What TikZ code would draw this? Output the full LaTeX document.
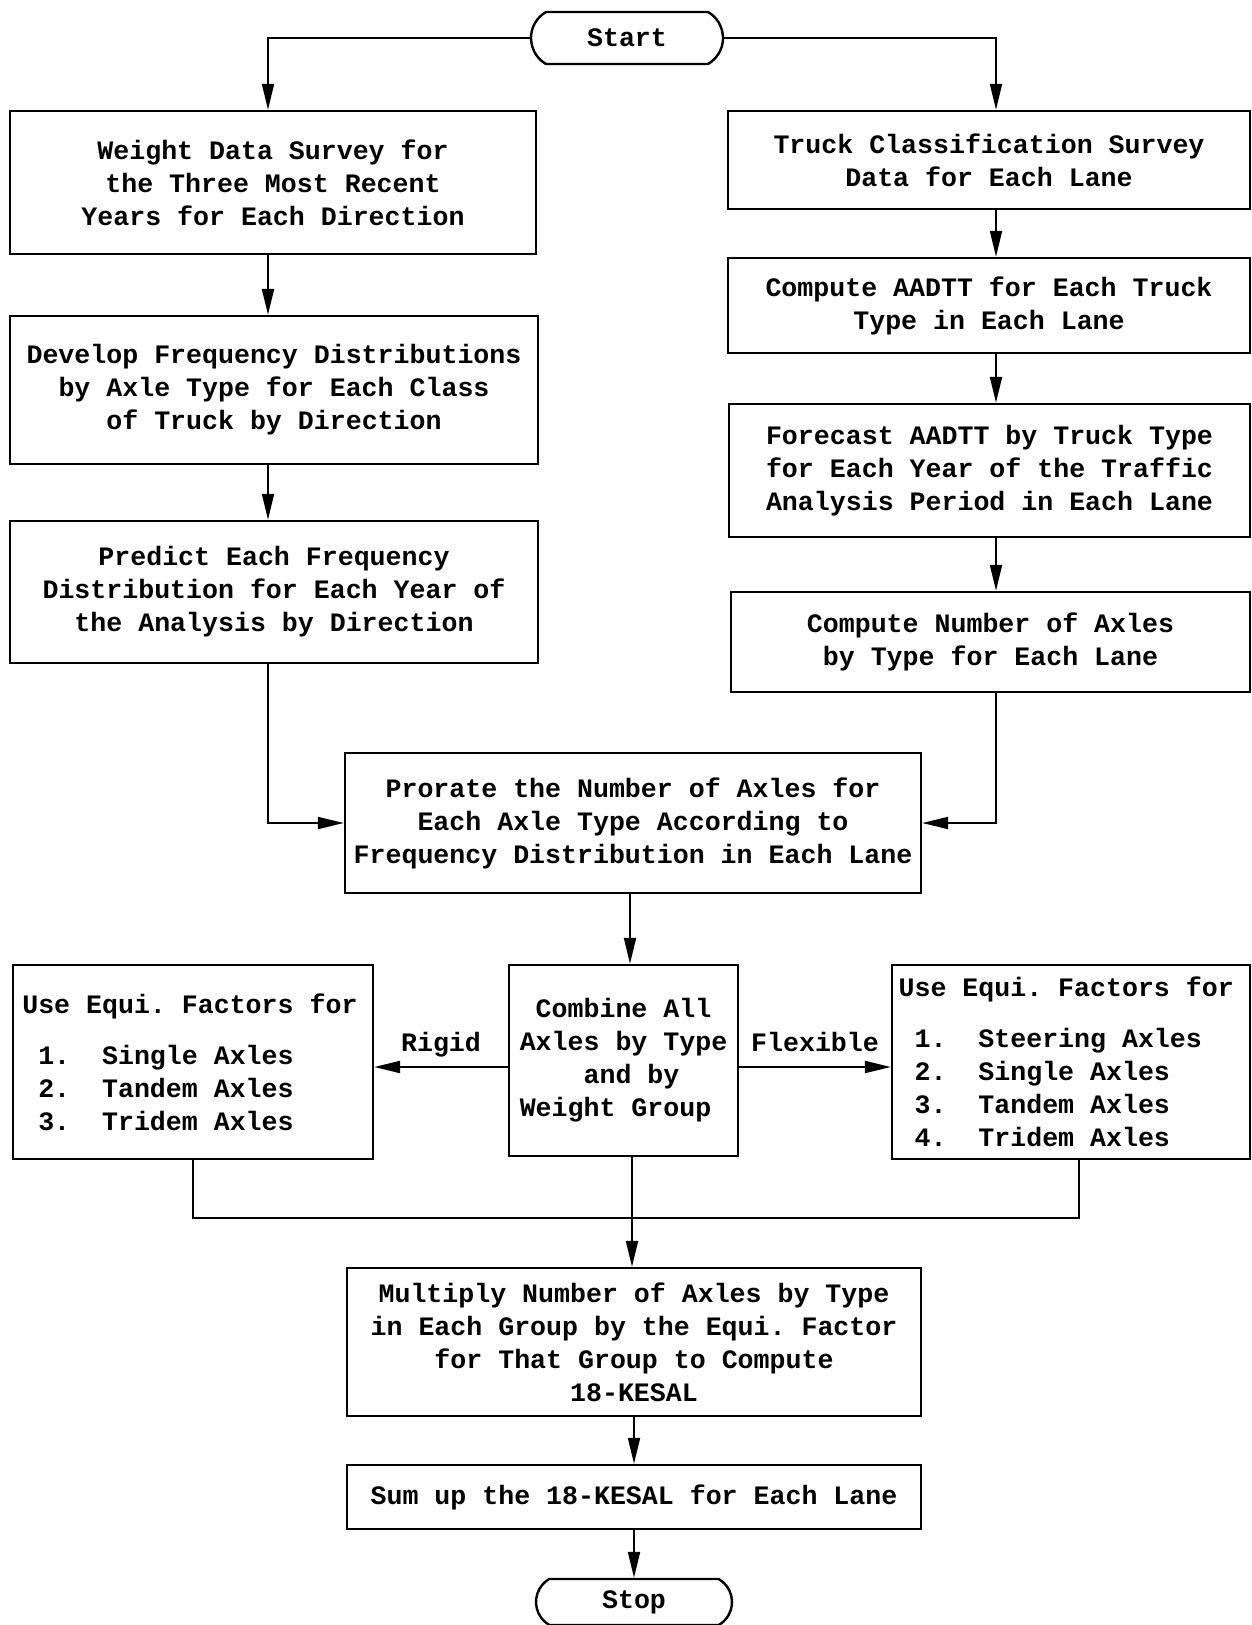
\documentclass[tikz,border=0pt]{standalone}
\usepackage{fontspec}
\setmonofont{Liberation Mono}
\usepackage{tikz}
\usetikzlibrary{shapes.misc,arrows.meta,calc}
\frenchspacing
\newcommand\eqsp{\spaceskip=.6em\relax}
\tikzset{box/.style={rectangle,draw,line width=1.2pt,inner sep=0pt,align=center,font=\ttfamily\bfseries\fontsize{13.3}{16.5}\selectfont},
term/.style={rounded rectangle,rounded rectangle arc length=120,draw,line width=1.2pt,inner sep=0pt,font=\ttfamily\bfseries\fontsize{13.3}{16.5}\selectfont},
lbl/.style={inner sep=1pt,text depth=3pt,font=\ttfamily\bfseries\fontsize{13.3}{16.5}\selectfont},
arr/.style={line width=1pt,-{Triangle[length=13pt,width=6pt]}},
ln/.style={line width=1pt}}

\begin{document}
\begin{tikzpicture}[x=0.5pt,y=-0.5pt]
\useasboundingbox (0,0) rectangle (1251,1625);
\coordinate (lx) at (268,0);
\coordinate (rx) at (996,0);
\coordinate (mx) at (630,0);
\coordinate (ry) at (0,1067);
\coordinate (rtx) at (1079,0);
\coordinate (jn) at (632,1218);
\node[term,minimum width=96pt,minimum height=26pt] (st) at (627,38) {Start};
\node[box,minimum width=263pt,minimum height=71.5pt] (b1) at (273,182.5) {Weight Data Survey for\\the Three Most Recent\\Years for Each Direction};
\node[box,minimum width=264pt,minimum height=74pt] (b2) at (274,390) {Develop Frequency Distributions\\by Axle Type for Each Class\\of Truck by Direction};
\node[box,minimum width=264pt,minimum height=71pt] (b3) at (274,592) {Predict Each Frequency\\Distribution for Each Year of\\the Analysis by Direction};
\node[box,minimum width=261pt,minimum height=49pt] (r1) at (989,160) {Truck Classification Survey\\Data for Each Lane};
\node[box,minimum width=261pt,minimum height=47.5pt] (r2) at (989,305.5) {Compute AADTT for Each Truck\\Type in Each Lane};
\node[box,minimum width=260.5pt,minimum height=66.5pt] (r3) at (989.5,470.5) {Forecast AADTT by Truck Type\\for Each Year of the Traffic\\Analysis Period in Each Lane};
\node[box,minimum width=259.5pt,minimum height=50pt] (r4) at (990.5,642) {Compute Number of Axles\\by Type for Each Lane};
\node[box,minimum width=288pt,minimum height=70pt] (pr) at (633,823) {Prorate the Number of Axles for\\Each Axle Type According to\\Frequency Distribution in Each Lane};
\node[box,align=left,minimum width=114.5pt,minimum height=95.5pt] (cb) at (623.5,1060.5) {\hspace*{.6em}Combine All\\Axles by Type\\\hspace*{2.4em}and by\\Weight Group};
\node[box,align=left,inner xsep=4.65pt,text width=170.7pt,minimum height=97pt] (rg) at (193,1062) {\eqsp Use Equi. Factors for\\[9pt]
\hspace*{.6em}1.\ \ Single Axles\\
\hspace*{.6em}2.\ \ Tandem Axles\\
\hspace*{.6em}3.\ \ Tridem Axles};
\node[box,align=left,inner xsep=3.3pt,text width=172.4pt,minimum height=97pt] (fl) at (1071,1062) {\eqsp Use Equi. Factors for\\[9pt]
\hspace*{.6em}1.\ \ Steering Axles\\
\hspace*{.6em}2.\ \ Single Axles\\
\hspace*{.6em}3.\ \ Tandem Axles\\
\hspace*{.6em}4.\ \ Tridem Axles};
\node[box,minimum width=287pt,minimum height=74pt] (mu) at (634,1342) {Multiply Number of Axles by Type\\in Each Group by the Equi. Factor\\for That Group to Compute\\18-KESAL};
\node[box,minimum width=287pt,minimum height=32pt] (su) at (634,1497) {Sum up the 18-KESAL for Each Lane};
\node[term,minimum width=98pt,minimum height=23pt] (sp) at (634,1602) {Stop};
\draw[arr] (st.west) -| (b1.north -| lx);
\draw[arr] (st.east) -| (r1.north -| rx);
\draw[arr] (b1.south -| lx) -- (b2.north -| lx);
\draw[arr] (b2.south -| lx) -- (b3.north -| lx);
\draw[arr] (b3.south -| lx) |- (pr.west);
\draw[arr] (r1.south -| rx) -- (r2.north -| rx);
\draw[arr] (r2.south -| rx) -- (r3.north -| rx);
\draw[arr] (r3.south -| rx) -- (r4.north -| rx);
\draw[arr] (r4.south -| rx) |- (pr.east);
\draw[arr] (pr.south -| mx) -- (cb.north -| mx);
\draw[arr] (cb.west |- ry) -- node[lbl,above=3.5pt]{Rigid} (rg.east |- ry);
\draw[arr] (cb.east |- ry) -- node[lbl,above=3.5pt]{Flexible} (fl.west |- ry);
\draw[ln] (rg.south) |- (jn);
\draw[ln] (fl.south -| rtx) |- (jn);
\draw[arr] (cb.south -| jn) -- (mu.north -| jn);
\draw[arr] (mu.south) -- (su.north);
\draw[arr] (su.south) -- (sp.north);
\end{tikzpicture}
\end{document}
